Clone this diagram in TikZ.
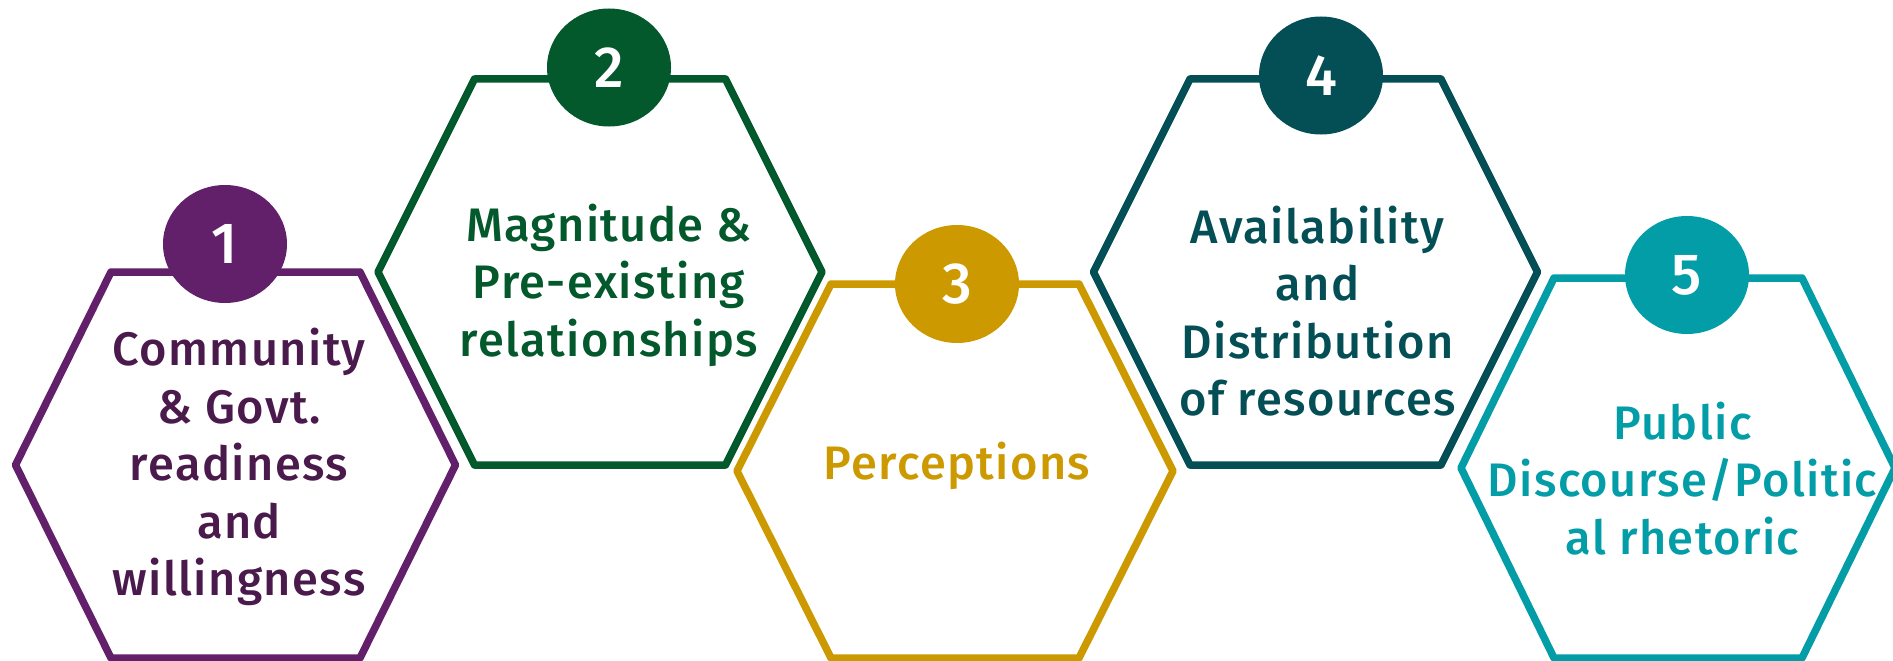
\documentclass[tikz,border=0pt]{standalone}
\usepackage{fontspec}
\setmainfont{Fira Sans}[UprightFont={* Medium}, LetterSpace=3]
\usetikzlibrary{shapes.geometric}

\definecolor{cPurple}{HTML}{63206A}
\definecolor{cPurpleText}{HTML}{4B1A4C}
\definecolor{cGreen}{HTML}{03582C}
\definecolor{cGold}{HTML}{CC9A00}
\definecolor{cSlate}{HTML}{044F55}
\definecolor{cTeal}{HTML}{039DA8}

\tikzset{
  hexline/.style={line width=7.5pt, line join=round},
  badge/.style={ellipse, minimum width=124pt, minimum height=118pt,
    inner sep=0pt, text=white, font=\fontsize{58}{58}\selectfont},
  hexlabel/.style={align=center, inner sep=0pt,
    font=\fontsize{47}{57.5}\selectfont},
}

% hexagon: centre x, centre y, half width, half top edge, half height, colour
\newcommand\hexshape[6]{%
  \draw[hexline, draw=#6]
    ({#1-#3},#2) -- ({#1-#4},{#2-#5}) -- ({#1+#4},{#2-#5}) --
    ({#1+#3},#2) -- ({#1+#4},{#2+#5}) -- ({#1-#4},{#2+#5}) -- cycle;}

\begin{document}
\begin{tikzpicture}[x=1pt,y=-1pt]
  \useasboundingbox (0,0) rectangle (1893,661);

  % outlines
  \hexshape{235.5}{465}{220}{124.5}{193}{cPurple}
  \hexshape{600}{272}{222}{125.5}{193}{cGreen}
  \hexshape{955}{471}{218}{124}{187}{cGold}
  \hexshape{1315.5}{272}{222}{125.5}{193}{cSlate}
  \hexshape{1678}{468}{217}{124}{190}{cTeal}

  % numbered badges
  \node[badge, fill=cPurple] (b1) at (225,244) {1};
  \node[badge, fill=cGreen]  (b2) at (609,67.5) {2};
  \node[badge, fill=cGold]   (b3) at (957,284) {3};
  \node[badge, fill=cSlate]  (b4) at (1321,75.5) {4};
  \node[badge, fill=cTeal]   (b5) at (1687,275) {5};

  % captions
  \node[hexlabel, text=cPurpleText] (t1) at (239,467)
    {Community\\\& Govt.\\readiness\\and\\willingness};
  \node[hexlabel, text=cGreen] (t2) at (609,285)
    {Magnitude \&\\Pre-existing\\relationships};
  \node[hexlabel, text=cGold] (t3) at (957,466) {Perceptions};
  \node[hexlabel, text=cSlate] (t4) at (1317.5,311)
    {Availability\\and\\Distribution\\of resources};
  \node[hexlabel, text=cTeal] (t5) at (1682.5,478.5)
    {Public\\Discourse/Politic\\al rhetoric};
\end{tikzpicture}
\end{document}
